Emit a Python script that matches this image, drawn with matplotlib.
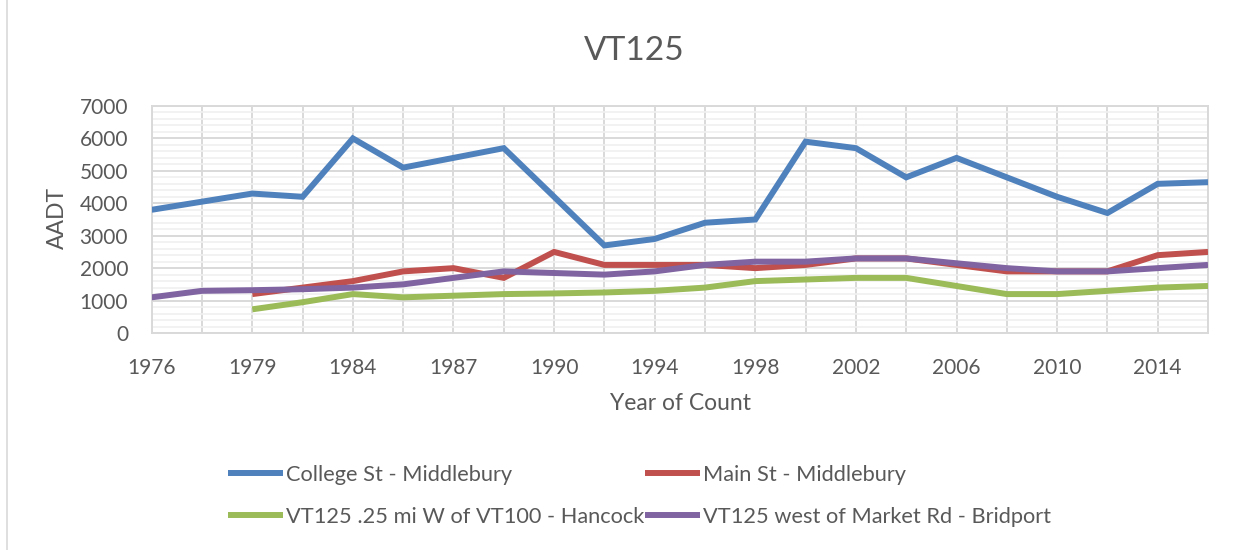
import matplotlib
matplotlib.use("Agg")
import matplotlib.pyplot as plt
from matplotlib.lines import Line2D
import numpy as np

plt.rcParams['font.family'] = ['Lato', 'DejaVu Sans']

years = ["1976", "1978", "1979", "1982", "1984", "1986", "1987", "1988",
         "1990", "1992", "1994", "1996", "1998", "2000", "2002", "2004",
         "2006", "2008", "2010", "2012", "2014", "2016"]

college_st = [3800, 4050, 4300, 4200, 6000, 5100, 5400, 5700, 4200, 2700, 2900,
              3400, 3500, 5900, 5700, 4800, 5400, 4800, 4200, 3700, 4600, 4650]
main_st = [None, None, 1200, 1400, 1600, 1900, 2000, 1700, 2500, 2100, 2100,
           2100, 2000, 2100, 2300, 2300, 2100, 1900, 1900, 1900, 2400, 2500]
hancock = [None, None, 730, 950, 1200, 1100, 1150, 1200, 1220, 1250, 1300,
           1400, 1600, 1650, 1700, 1700, 1450, 1200, 1200, 1300, 1400, 1450]
bridport = [1100, 1300, 1320, 1350, 1400, 1500, 1700, 1900, 1850, 1800, 1900,
            2100, 2200, 2200, 2300, 2300, 2150, 2000, 1900, 1900, 2000, 2100]

series = [
    ("College St - Middlebury", college_st, "#4F81BD"),
    ("Main St - Middlebury", main_st, "#C0504D"),
    ("VT125 .25 mi W of VT100 - Hancock", hancock, "#9BBB59"),
    ("VT125 west of Market Rd - Bridport", bridport, "#8064A2"),
]

TXT = "#595959"
fig = plt.figure(figsize=(12.6, 5.5), dpi=100)
ax = fig.add_axes([151.7 / 1260, 1 - 333 / 550, (1208 - 151.7) / 1260, (333 - 106) / 550])

x = np.arange(len(years))
handles = []
for name, vals, col in series:
    v = np.array([np.nan if a is None else a for a in vals], dtype=float)
    ln, = ax.plot(x, v, color=col, lw=4.3, solid_capstyle="butt", solid_joinstyle="miter", label=name, zorder=3)
    handles.append(ln)

ax.set_xlim(0, len(years) - 1)
ax.set_ylim(0, 7000)
ax.set_yticks(range(0, 7001, 1000))
ax.set_yticks(range(0, 7001, 200), minor=True)
ax.set_xticks(x)
ax.set_xticklabels([y if i % 2 == 0 else "" for i, y in enumerate(years)])
ax.grid(which="minor", axis="y", color="#f0f0f0", lw=1.2, zorder=0)
ax.grid(which="major", axis="y", color="#d9d9d9", lw=1.4, zorder=1)
ax.grid(which="major", axis="x", color="#d9d9d9", lw=1.4, zorder=1)
for s in ax.spines.values():
    s.set_color("#d9d9d9")
    s.set_linewidth(1.4)
ax.tick_params(which="both", length=0, colors=TXT, labelsize=15)
ax.tick_params(axis="y", pad=17)
ax.tick_params(axis="x", pad=18)

fig.text(634 / 1260, 1 - 51 / 550, "VT125", ha="center", va="center", fontsize=24, color=TXT)
fig.text(57 / 1260, 1 - 218 / 550, "AADT", ha="center", va="center", rotation=90, fontsize=16.5, color=TXT)
fig.text(680 / 1260, 1 - 404 / 550, "Year of Count", ha="center", va="center", fontsize=16.5, color=TXT)

# row-wise order like Excel: College, Main / Hancock, Bridport
order = [handles[0], handles[2], handles[1], handles[3]]
leg = fig.legend(handles=order, ncol=2, loc="center left", bbox_to_anchor=(228 / 1260, 1 - 496 / 550),
                 frameon=False, fontsize=15.7, handlelength=2.5, handletextpad=0.15,
                 columnspacing=0.05, labelspacing=1.0, borderpad=0, borderaxespad=0)
for t in leg.get_texts():
    t.set_color(TXT)

fig.add_artist(Line2D([7 / 1260, 7 / 1260], [0, 1], color="#d9d9d9", lw=1.2))

fig.savefig("out.png", dpi=100)
